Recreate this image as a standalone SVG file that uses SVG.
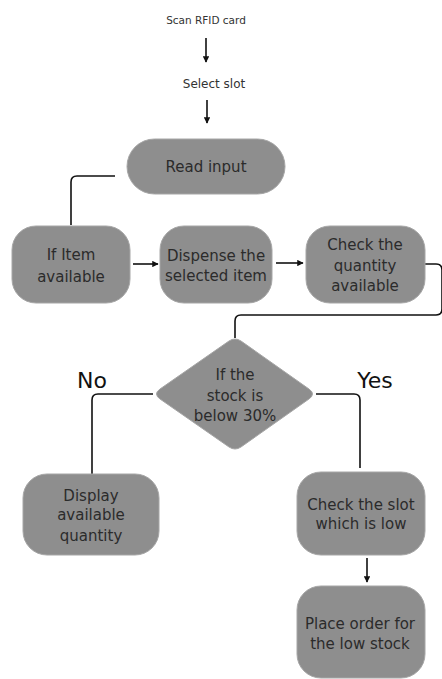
<svg xmlns="http://www.w3.org/2000/svg" width="442" height="679" viewBox="0 0 442 679">
<defs>
<style>
.box{fill:#8e8e8e;stroke:#a6a6a6;stroke-width:1}
.t{font-family:"DejaVu Sans","Noto Sans",sans-serif;font-size:15px;fill:#2b2b2b;text-anchor:middle}
.s{font-family:"DejaVu Sans","Noto Sans",sans-serif;font-size:10.5px;fill:#333;text-anchor:middle}
.lbl{font-family:"DejaVu Sans","Noto Sans",sans-serif;font-size:22px;fill:#111;text-anchor:middle}
.c{fill:none;stroke:#111;stroke-width:1.6}
</style>
<marker id="ah" viewBox="0 0 10 10" refX="9" refY="5" markerWidth="4" markerHeight="4" orient="auto"><path d="M0,0 L10,5 L0,10 z" fill="#111"/></marker>
</defs>
<rect width="442" height="679" fill="#fff"/>
<g id="connectors">
<path class="c" d="M206,38 V62" marker-end="url(#ah)"/>
<path class="c" d="M207,100 V123" marker-end="url(#ah)"/>
<path class="c" d="M115,176 H77 Q71,176 71,182 V225"/>
<path class="c" d="M133,264 H158" marker-end="url(#ah)"/>
<path class="c" d="M276,263 H303" marker-end="url(#ah)"/>
<path class="c" d="M425,264 H436 Q442,264 442,270 V309 Q442,315 436,315 H241 Q235,315 235,321 V338"/>
<path class="c" d="M153,394 H98 Q92,394 92,400 V475"/>
<path class="c" d="M316,394 H354 Q360,394 360,400 V468"/>
<path class="c" d="M367,558 V582" marker-end="url(#ah)"/>
</g>
<g id="scan"><text class="s" x="206" y="24">Scan RFID card</text></g>
<g id="select"><text class="s" x="214" y="88" style="font-size:12px">Select slot</text></g>
<g id="read"><rect class="box" x="127" y="139" width="158" height="55" rx="27.5"/><text class="t" x="206" y="172">Read input</text></g>
<g id="ifitem"><rect class="box" x="12" y="226" width="118" height="77" rx="24"/><text class="t" x="71" y="260">If Item</text><text class="t" x="71" y="282">available</text></g>
<g id="dispense"><rect class="box" x="160" y="226" width="112" height="77" rx="24"/><text class="t" x="216" y="261">Dispense the</text><text class="t" x="216" y="281">selected item</text></g>
<g id="checkqty"><rect class="box" x="306" y="226" width="119" height="77" rx="24"/><text class="t" x="365" y="250">Check the</text><text class="t" x="365" y="271">quantity</text><text class="t" x="365" y="291">available</text></g>
<g id="decision"><path class="box" d="M229,341 Q235,337 241,341 L309,389 Q316,394 309,399 L241,447 Q235,451 229,447 L160,399 Q153,394 160,389 Z"/><text class="t" x="235" y="380">If the</text><text class="t" x="235" y="401">stock is</text><text class="t" x="235" y="421">below 30%</text></g>
<g id="nolabel"><text class="lbl" x="92" y="388">No</text></g>
<g id="yeslabel"><text class="lbl" x="375" y="388">Yes</text></g>
<g id="display"><rect class="box" x="23" y="474" width="136" height="81" rx="24"/><text class="t" x="91" y="501">Display</text><text class="t" x="91" y="520">available</text><text class="t" x="91" y="541">quantity</text></g>
<g id="checkslot"><rect class="box" x="297" y="472" width="128" height="83" rx="24"/><text class="t" x="361" y="510">Check the slot</text><text class="t" x="361" y="529">which is low</text></g>
<g id="placeorder"><rect class="box" x="297" y="586" width="128" height="92" rx="24"/><text class="t" x="360" y="629">Place order for</text><text class="t" x="360" y="649">the low stock</text></g>
</svg>
